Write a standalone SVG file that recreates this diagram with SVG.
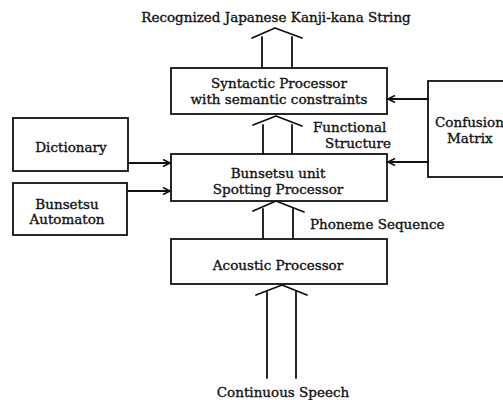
<svg xmlns="http://www.w3.org/2000/svg" width="503" height="400" viewBox="0 0 503 400">
<style>
.box{fill:#fff;stroke:#111;stroke-width:1.8}
.ln{fill:none;stroke:#111;stroke-width:1.8;stroke-linecap:round;stroke-linejoin:round}
.t{font-family:"DejaVu Serif","Liberation Serif",serif;font-size:13.5px;fill:#111;stroke:#111;stroke-width:0.35}
.c{text-anchor:middle}
</style>
<defs>
<marker id="ah" markerWidth="10" markerHeight="10" refX="8" refY="5" orient="auto" markerUnits="userSpaceOnUse">
<path d="M1,1.5 L8,5 L1,8.5" fill="none" stroke="#111" stroke-width="1.6"/>
</marker>
</defs>
<rect width="503" height="400" fill="#fff"/>
<text class="t c" x="276" y="22">Recognized Japanese Kanji-kana String</text>
<g id="syntactic">
<rect class="box" x="171" y="68" width="216" height="46"/>
<text class="t c" x="279" y="88">Syntactic Processor</text>
<text class="t c" x="279" y="104">with semantic constraints</text>
</g>
<g id="confusion">
<rect class="box" x="428" y="81" width="80" height="96"/>
<text class="t" x="435" y="127">Confusion</text>
<text class="t" x="447" y="143">Matrix</text>
</g>
<g id="dictionary">
<rect class="box" x="13" y="118" width="115" height="53"/>
<text class="t c" x="71" y="152">Dictionary</text>
</g>
<g id="automaton">
<rect class="box" x="13" y="183" width="114" height="52"/>
<text class="t c" x="67" y="209">Bunsetsu</text>
<text class="t c" x="67" y="224">Automaton</text>
</g>
<g id="spotting">
<rect class="box" x="171" y="154" width="216" height="47"/>
<text class="t c" x="278" y="178">Bunsetsu unit</text>
<text class="t c" x="278" y="194">Spotting Processor</text>
</g>
<g id="acoustic">
<rect class="box" x="171" y="239" width="216" height="45"/>
<text class="t c" x="278" y="270">Acoustic Processor</text>
</g>
<text class="t" x="313" y="132">Functional</text>
<text class="t" x="325" y="148">Structure</text>
<text class="t" x="310" y="229">Phoneme Sequence</text>
<text class="t c" x="283" y="397">Continuous Speech</text>
<g id="connectors">
<path class="ln" d="M262,68 V37 M292,68 V37 M252,38 L275,28 L302,38"/>
<path class="ln" d="M263,154 V125 M292,154 V125 M253,125 L276,116 L302,126"/>
<path class="ln" d="M263,238 V209 M293,238 V209 M253,211 L276,201 L304,212"/>
<path class="ln" d="M267,378 V291 M296,378 V291 M256,295 L282,285 L307,295"/>
<path class="ln" d="M428,99 H388" marker-end="url(#ah)"/>
<path class="ln" d="M428,162 H388" marker-end="url(#ah)"/>
<path class="ln" d="M128,163 H170" marker-end="url(#ah)"/>
<path class="ln" d="M128,191 H170" marker-end="url(#ah)"/>
</g>
</svg>
